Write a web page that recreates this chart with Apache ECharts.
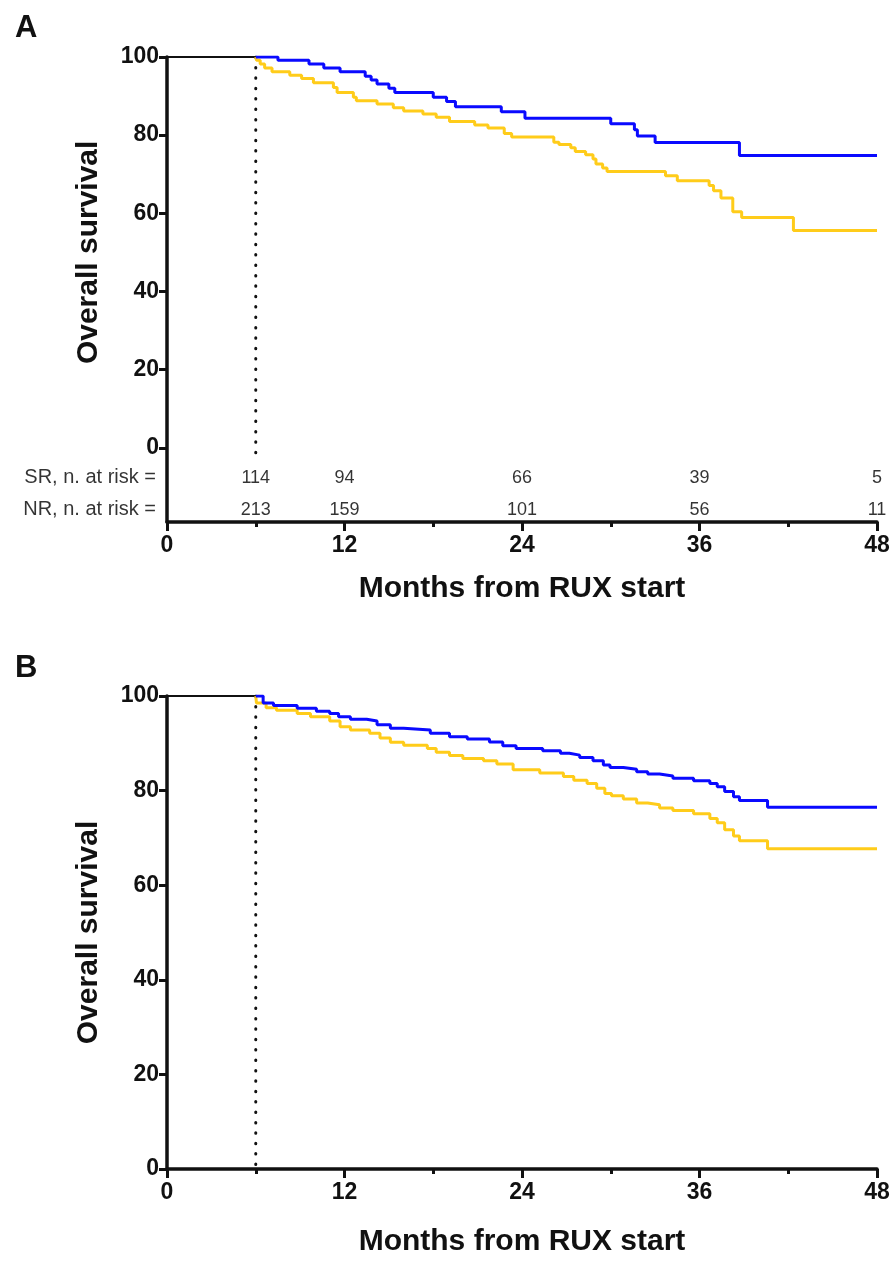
<!DOCTYPE html>
<html>
<head>
<meta charset="utf-8">
<script src="https://cdn.jsdelivr.net/npm/echarts@6/dist/echarts.min.js"></script>
<style>
html,body{margin:0;padding:0;background:#fff;}
#c{width:894px;height:1270px;}
</style>
</head>
<body>
<div id="c"></div>
<script>
// ---------- DATA ----------
const xTicks = [0, 12, 24, 36, 48];
const yTicks = [0, 20, 40, 60, 80, 100];
const landmark = 6;

// Panel A: SR (blue) and NR (yellow) Kaplan-Meier steps (month, survival %)
const aSrT = [6, 7.5, 9.6, 10.6, 11.7, 13.4, 13.8, 14.2, 15.0, 15.4, 18.0, 18.9, 19.5, 22.6, 24.2, 30.0, 31.6, 31.8, 33.0, 38.7, 48];
const aSrS = [100, 99.2, 98.2, 97.2, 96.2, 95.1, 94.1, 93.1, 92.0, 90.9, 89.7, 88.6, 87.3, 86.0, 84.3, 82.9, 81.4, 79.8, 78.1, 74.8, 74.8];
const aNrT = [6, 6.05, 6.3, 6.6, 7.1, 8.3, 9.1, 9.9, 11.25, 11.5, 12.6, 12.8, 14.2, 15.3, 16.0, 17.3, 18.2, 19.1, 20.8, 21.7, 22.8, 23.3, 26.15, 26.5, 27.3, 27.6, 28.3, 28.8, 29.0, 29.45, 29.75, 33.7, 34.5, 36.65, 36.95, 37.45, 38.25, 38.85, 42.35, 48];
const aNrS = [100, 99.2, 98.2, 97.2, 96.2, 95.3, 94.5, 93.4, 92.2, 90.9, 89.7, 88.8, 88.0, 87.0, 86.2, 85.4, 84.6, 83.5, 82.6, 81.8, 80.4, 79.5, 78.2, 77.6, 76.8, 75.8, 75.0, 73.9, 72.6, 71.6, 70.7, 69.6, 68.3, 67.1, 65.8, 63.9, 60.4, 58.9, 55.6, 55.6];

// Panel B
const bSrT = [6, 6.5, 7.2, 8.8, 10.1, 11.0, 11.6, 12.4, 13.5, 14.2, 15.1, 16.0, 17.8, 19.1, 20.3, 21.8, 22.7, 23.6, 25.4, 26.6, 27.2, 27.9, 28.8, 29.5, 29.95, 30.85, 31.75, 32.5, 33.3, 34.2, 35.6, 36.7, 37.2, 37.7, 38.3, 38.7, 40.6, 48];
const bSrS = [100, 98.5, 98.0, 97.4, 96.8, 96.3, 95.6, 95.1, 94.7, 93.9, 93.2, 92.8, 92.1, 91.4, 90.9, 90.3, 89.5, 88.9, 88.4, 87.9, 87.5, 87.0, 86.3, 85.4, 84.9, 84.5, 84.0, 83.5, 83.1, 82.6, 82.1, 81.5, 80.8, 79.8, 78.7, 77.9, 76.5, 76.5];
const bNrT = [6, 6.05, 6.7, 7.4, 8.8, 9.7, 11.0, 11.7, 12.4, 13.7, 14.4, 15.1, 16.0, 17.6, 18.2, 19.1, 20.0, 21.4, 22.3, 23.4, 25.2, 26.8, 27.5, 28.4, 29.05, 29.6, 30.05, 30.85, 31.75, 32.5, 33.3, 34.2, 35.6, 36.7, 37.2, 37.7, 38.3, 38.7, 40.6, 48];
const bNrS = [100, 98.5, 97.5, 97.0, 96.3, 95.6, 94.7, 93.5, 92.8, 92.1, 91.1, 90.2, 89.6, 88.9, 88.1, 87.4, 86.8, 86.3, 85.6, 84.4, 83.7, 83.0, 82.2, 81.5, 80.5, 79.4, 78.9, 78.2, 77.4, 77.0, 76.3, 75.8, 75.1, 74.1, 73.2, 71.7, 70.4, 69.4, 67.7, 67.7];

// Number at risk (panel A)
const riskT = [6, 12, 24, 36, 48];
const srAtRisk = [114, 94, 66, 39, 5];
const nrAtRisk = [213, 159, 101, 56, 11];
const riskRowY = [-7.7, -15.9];   // rows below the 0 line
const riskRowLabels = ['SR, n. at risk =', 'NR, n. at risk ='];

// ---------- CHART ----------
const BLUE = '#0a0aff', YELLOW = '#ffcc1a', INK = '#111';
const FONT = 'Liberation Sans, Arial, sans-serif';
const pairs = (t, s) => t.map((v, i) => [v, s[i]]);

function xAxis(gi, gap) {
  return {
    type: 'value', gridIndex: gi, min: 0, max: 48, interval: 12,
    name: 'Months from RUX start', nameLocation: 'middle', nameGap: gap,
    nameTextStyle: { fontFamily: FONT, fontWeight: 'bold', fontSize: 30, color: INK },
    axisLine: { show: true, onZero: false, lineStyle: { color: INK, width: 3.5 } },
    axisTick: { show: true, length: 9, lineStyle: { color: INK, width: 3 } },
    minorTick: { show: true, splitNumber: 2, length: 5, lineStyle: { color: INK, width: 3 } },
    axisLabel: { fontFamily: FONT, fontWeight: 'bold', fontSize: 23, color: INK, margin: 12 },
    splitLine: { show: false }, minorSplitLine: { show: false }
  };
}
function yAxis(gi, min) {
  return {
    type: 'value', gridIndex: gi, min: min, max: 100,
    axisLine: { show: true, onZero: false, lineStyle: { color: INK, width: 3.5 } },
    axisTick: { show: true, length: 8, customValues: yTicks, lineStyle: { color: INK, width: 3 } },
    axisLabel: { fontFamily: FONT, fontWeight: 'bold', fontSize: 23, color: INK, margin: 8, customValues: yTicks },
    splitLine: { show: false }
  };
}
function kmLine(gi, data, color) {
  return { type: 'line', xAxisIndex: gi, yAxisIndex: gi, data: data, step: 'end', symbol: 'none',
           lineStyle: { color: color, width: 3 }, z: 5, silent: true };
}
function lead(gi) {
  return { type: 'line', xAxisIndex: gi, yAxisIndex: gi, data: [[0, 100], [landmark, 100]], symbol: 'none',
           lineStyle: { color: INK, width: 2 }, z: 4, silent: true };
}
function dotted(gi, bottom) {
  return { type: 'line', xAxisIndex: gi, yAxisIndex: gi, data: [[landmark, 100], [landmark, bottom]], symbol: 'none',
           lineStyle: { color: INK, width: 3, type: [0.5, 9.9], cap: 'round' }, z: 3, silent: true };
}

const series = [
  lead(0), dotted(0, -1.5), kmLine(0, pairs(aNrT, aNrS), YELLOW), kmLine(0, pairs(aSrT, aSrS), BLUE),
  lead(1), dotted(1, 0), kmLine(1, pairs(bNrT, bNrS), YELLOW), kmLine(1, pairs(bSrT, bSrS), BLUE)
];
// risk table numbers
[srAtRisk, nrAtRisk].forEach((arr, r) => {
  series.push({
    type: 'scatter', xAxisIndex: 0, yAxisIndex: 0, symbolSize: 0, clip: false, silent: true,
    data: riskT.map((t, i) => [t, riskRowY[r], arr[i]]),
    label: { show: true, position: 'inside', formatter: p => String(p.value[2]),
             fontFamily: FONT, fontSize: 18, color: '#000' }
  });
  series.push({
    type: 'scatter', xAxisIndex: 0, yAxisIndex: 0, symbolSize: 0, clip: false, silent: true,
    data: [[0, riskRowY[r]]],
    label: { show: true, position: 'left', distance: 11, formatter: riskRowLabels[r],
             fontFamily: FONT, fontSize: 20, color: '#000' }
  });
});

const option = {
  backgroundColor: '#fff',
  animation: false,
  title: [
    { text: 'A', left: 10, top: 8, textStyle: { fontFamily: FONT, fontWeight: 'bold', fontSize: 31, color: INK } },
    { text: 'B', left: 10, top: 648, textStyle: { fontFamily: FONT, fontWeight: 'bold', fontSize: 31, color: INK } }
  ],
  grid: [
    { left: 167, right: 17, top: 57, height: 465 },
    { left: 167, right: 17, top: 696, height: 473 }
  ],
  xAxis: [xAxis(0, 52), xAxis(1, 58)],
  yAxis: [yAxis(0, -19), yAxis(1, 0)],
  series: series
};

const chart = echarts.init(document.getElementById('c'), null, { renderer: 'canvas' });
chart.setOption(option);

// y-axis titles centred on the 0-100 range of each panel
const ga = chart.convertToPixel({ gridIndex: 0 }, [0, 50]);
const gb = chart.convertToPixel({ gridIndex: 1 }, [0, 50]);
const ytitle = (p) => ({
  type: 'text', x: p[0] - 78, y: p[1], rotation: Math.PI / 2,
  style: { text: 'Overall survival', font: 'bold 30px ' + FONT, fill: INK, align: 'center', verticalAlign: 'middle' }
});
chart.setOption({ graphic: [ytitle(ga), ytitle(gb)] });
</script>
</body>
</html>
